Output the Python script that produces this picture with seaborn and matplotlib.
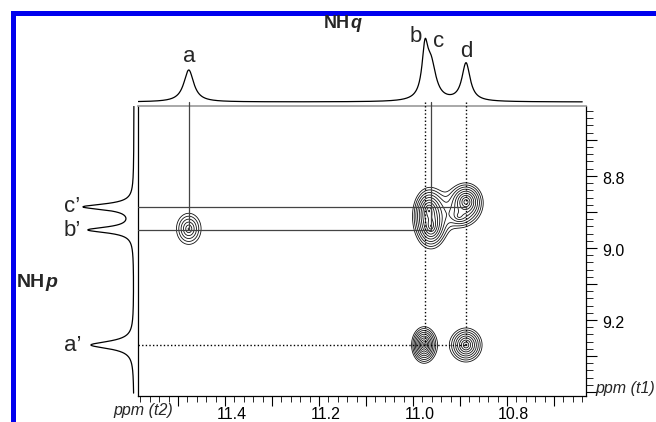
import numpy as np
import pandas as pd
import matplotlib
matplotlib.use("Agg")
import matplotlib.pyplot as plt
import matplotlib.transforms as mtransforms
from matplotlib.patches import Rectangle
from matplotlib.ticker import MultipleLocator, FuncFormatter
import seaborn as sns

# ---------------- data (ppm) ----------------
# 1D projection along t2 (top, NHq)
t2_labels = ["a", "b", "c", "d"]
t2_ppm = [11.477, 10.9745, 10.9617, 10.8872]
t2_height = [32, 45, 35, 38]
t2_hwhm = [0.0128, 0.0075, 0.0128, 0.0106]

# 1D projection along t1 (left, NHp)
t1_labels = ["a\u2019", "b\u2019", "c\u2019"]
t1_ppm = [9.2694, 8.950, 8.886]
t1_height = [43, 45, 50]
t1_hwhm = [0.0125, 0.0097, 0.0097]

# 2D cross peaks (t2 ppm, t1 ppm, widths, intensity)
cross_t2 = [11.477, 10.9659, 10.9617, 10.8872, 10.9020, 10.9766, 10.8872]
cross_t1 = [8.947, 8.897, 8.939, 8.872, 8.912, 9.2694, 9.2694]
cross_w2 = [0.0200, 0.0138, 0.0138, 0.0160, 0.0180, 0.0110, 0.0164]
cross_w1 = [0.0330, 0.0278, 0.0278, 0.0235, 0.0200, 0.0210, 0.0227]
cross_amp = [3.7, 8.0, 8.0, 9.0, 2.5, 11.0, 8.0]

# correlation guide lines
vguides_t2 = [11.477, 10.9745, 10.9617, 10.8872]
vguides_end = [8.950, 9.2694, 8.950, 9.2694]
vguides_dotted = [False, True, False, True]
hguides_t1 = [8.886, 8.950, 9.2694]
hguides_end = [10.8872, 10.9617, 10.8872]
hguides_dotted = [False, False, True]

x_ticklabels = ["11.4", "11.2", "11.0", "10.8"]
y_ticklabels = ["8.8", "9.0", "9.2"]

XLIM = (11.585, 10.632)
YLIM = (9.411, 8.606)

# ---------------- figure ----------------
sns.set_style("white")
plt.rcParams["font.family"] = ["Liberation Sans", "DejaVu Sans"]

W, H = 656, 422
fig = plt.figure(figsize=(W / 100, H / 100), dpi=100)


def fx(px):
    return px / W


def fy(py):
    return 1 - py / H


ax = fig.add_axes([fx(138), fy(396), 448 / W, 290 / H])
ax_top = fig.add_axes([fx(138), fy(106), 448 / W, 86 / H])
ax_left = fig.add_axes([fx(60), fy(396), 78 / W, 290 / H])

# ---- 2D contour ----
gx = np.linspace(10.62, 11.60, 800)
gy = np.linspace(8.59, 9.43, 700)
GX, GY = np.meshgrid(gx, gy)
Z = np.zeros_like(GX)
for cx, cy, sx, sy, a in zip(cross_t2, cross_t1, cross_w2, cross_w1, cross_amp):
    Z += a * np.exp(-np.sqrt(((GX - cx) / sx) ** 2 + ((GY - cy) / sy) ** 2))
levels = [1.0 * 1.28 ** k for k in range(10)]
ax.contour(GX, GY, Z, levels=levels, colors="#111111", linewidths=0.6)

ax.set_xlim(*XLIM)
ax.set_ylim(*YLIM)

# guide lines
top_ext = YLIM[1] - 4 / 360
for xv, yend, dotted in zip(vguides_t2, vguides_end, vguides_dotted):
    if dotted:
        ax.plot([xv, xv], [top_ext, yend], color="black", lw=1.0,
                linestyle=(0, (1, 1.6)), clip_on=False, zorder=3)
    else:
        ax.plot([xv, xv], [top_ext, yend], color="#444444", lw=0.9,
                clip_on=False, zorder=3)
for yv, xend, dotted in zip(hguides_t1, hguides_end, hguides_dotted):
    if dotted:
        ax.plot([XLIM[0], xend], [yv, yv], color="black", lw=1.0,
                linestyle=(0, (1, 1.6)), zorder=3)
    else:
        ax.plot([XLIM[0], xend], [yv, yv], color="#444444", lw=0.9, zorder=3)

# spines & ticks
for s in ["left", "right", "bottom"]:
    ax.spines[s].set_visible(True)
    ax.spines[s].set_color("black")
    ax.spines[s].set_linewidth(0.9)
ax.spines["top"].set_color("#9a9a9a")
ax.spines["top"].set_linewidth(1.2)

ax.xaxis.set_major_locator(MultipleLocator(0.1))
ax.xaxis.set_minor_locator(MultipleLocator(0.02))
ax.yaxis.set_major_locator(MultipleLocator(0.1))
ax.yaxis.set_minor_locator(MultipleLocator(0.02))


def xfmt(v, pos):
    s = f"{v:.1f}"
    return s if s in x_ticklabels else ""


def yfmt(v, pos):
    s = f"{v:.1f}"
    return s if s in y_ticklabels else ""


ax.xaxis.set_major_formatter(FuncFormatter(xfmt))
ax.yaxis.set_major_formatter(FuncFormatter(yfmt))
ax.yaxis.tick_right()
ax.tick_params(axis="x", which="major", direction="out", length=7, width=0.8,
               bottom=True, top=False, labelsize=11.5, pad=1, colors="black")
ax.tick_params(axis="x", which="minor", direction="out", length=4, width=0.7,
               bottom=True, top=False)
ax.tick_params(axis="y", which="major", direction="out", length=8, width=0.8,
               right=True, left=False, labelright=True, labelleft=False,
               labelsize=11.5, pad=4, colors="black")
ax.tick_params(axis="y", which="minor", direction="out", length=5, width=0.7,
               right=True, left=False)
xoff = mtransforms.ScaledTranslation(6.5 / 100, 0, fig.dpi_scale_trans)
for lab in ax.get_xticklabels():
    lab.set_transform(lab.get_transform() + xoff)
yoff = mtransforms.ScaledTranslation(0, -2 / 100, fig.dpi_scale_trans)
for lab in ax.get_yticklabels():
    lab.set_transform(lab.get_transform() + yoff)

# ---- top projection ----
xs = np.linspace(11.585, 10.64, 1500)
top = np.zeros_like(xs)
for p, h, w in zip(t2_ppm, t2_height, t2_hwhm):
    top += h / (1 + ((xs - p) / w) ** 2)
sns.lineplot(x=xs, y=top, ax=ax_top, color="black", lw=0.9, sort=False)
ax_top.set_xlim(*XLIM)
ax_top.set_ylim(-4, 82)
ax_top.axis("off")

# ---- left projection ----
ys = np.linspace(8.607, 9.403, 1500)
side = np.zeros_like(ys)
for p, h, w in zip(t1_ppm, t1_height, t1_hwhm):
    side += h / (1 + ((ys - p) / w) ** 2)
sns.lineplot(x=side, y=ys, ax=ax_left, color="black", lw=0.9, sort=False,
             orient="y")
ax_left.set_xlim(74, -4)
ax_left.set_ylim(*YLIM)
ax_left.axis("off")

# ---- labels ----
fs_pk = 16
lab_pos_top = {"a": (189, 62), "b": (416, 42), "c": (439, 47), "d": (466, 57)}
for lab in t2_labels:
    x, y = lab_pos_top[lab]
    fig.text(fx(x), fy(y), lab, ha="center", va="baseline", fontsize=fs_pk)
lab_pos_left = {"a\u2019": 351, "b\u2019": 236, "c\u2019": 212}
for lab in t1_labels:
    fig.text(fx(64), fy(lab_pos_left[lab]), lab, ha="left", va="baseline",
             fontsize=fs_pk)

fig.text(fx(350), fy(28.5), "NH", ha="right", va="baseline", fontsize=13,
         fontweight="bold")
fig.text(fx(350), fy(28.5), "q", ha="left", va="baseline", fontsize=13,
         fontweight="bold", fontstyle="italic")
fig.text(fx(45), fy(287), "NH", ha="right", va="baseline", fontsize=14,
         fontweight="bold")
fig.text(fx(45), fy(287), "p", ha="left", va="baseline", fontsize=14,
         fontweight="bold", fontstyle="italic")

fig.text(fx(173), fy(411), "ppm (t2)", ha="right", va="center", fontsize=11.5,
         fontstyle="italic")
fig.text(fx(595), fy(388), "ppm (t1)", ha="left", va="center", fontsize=11.5,
         fontstyle="italic")

# ---- blue frame ----
frame = Rectangle((fx(12.5), fy(424)), (700 - 12.5) / W, (424 - 12.5) / H,
                  transform=fig.transFigure, fill=False, edgecolor="#0000ee",
                  linewidth=3.6, clip_on=False)
fig.add_artist(frame)

fig.savefig("out.png", dpi=100, facecolor="white")
